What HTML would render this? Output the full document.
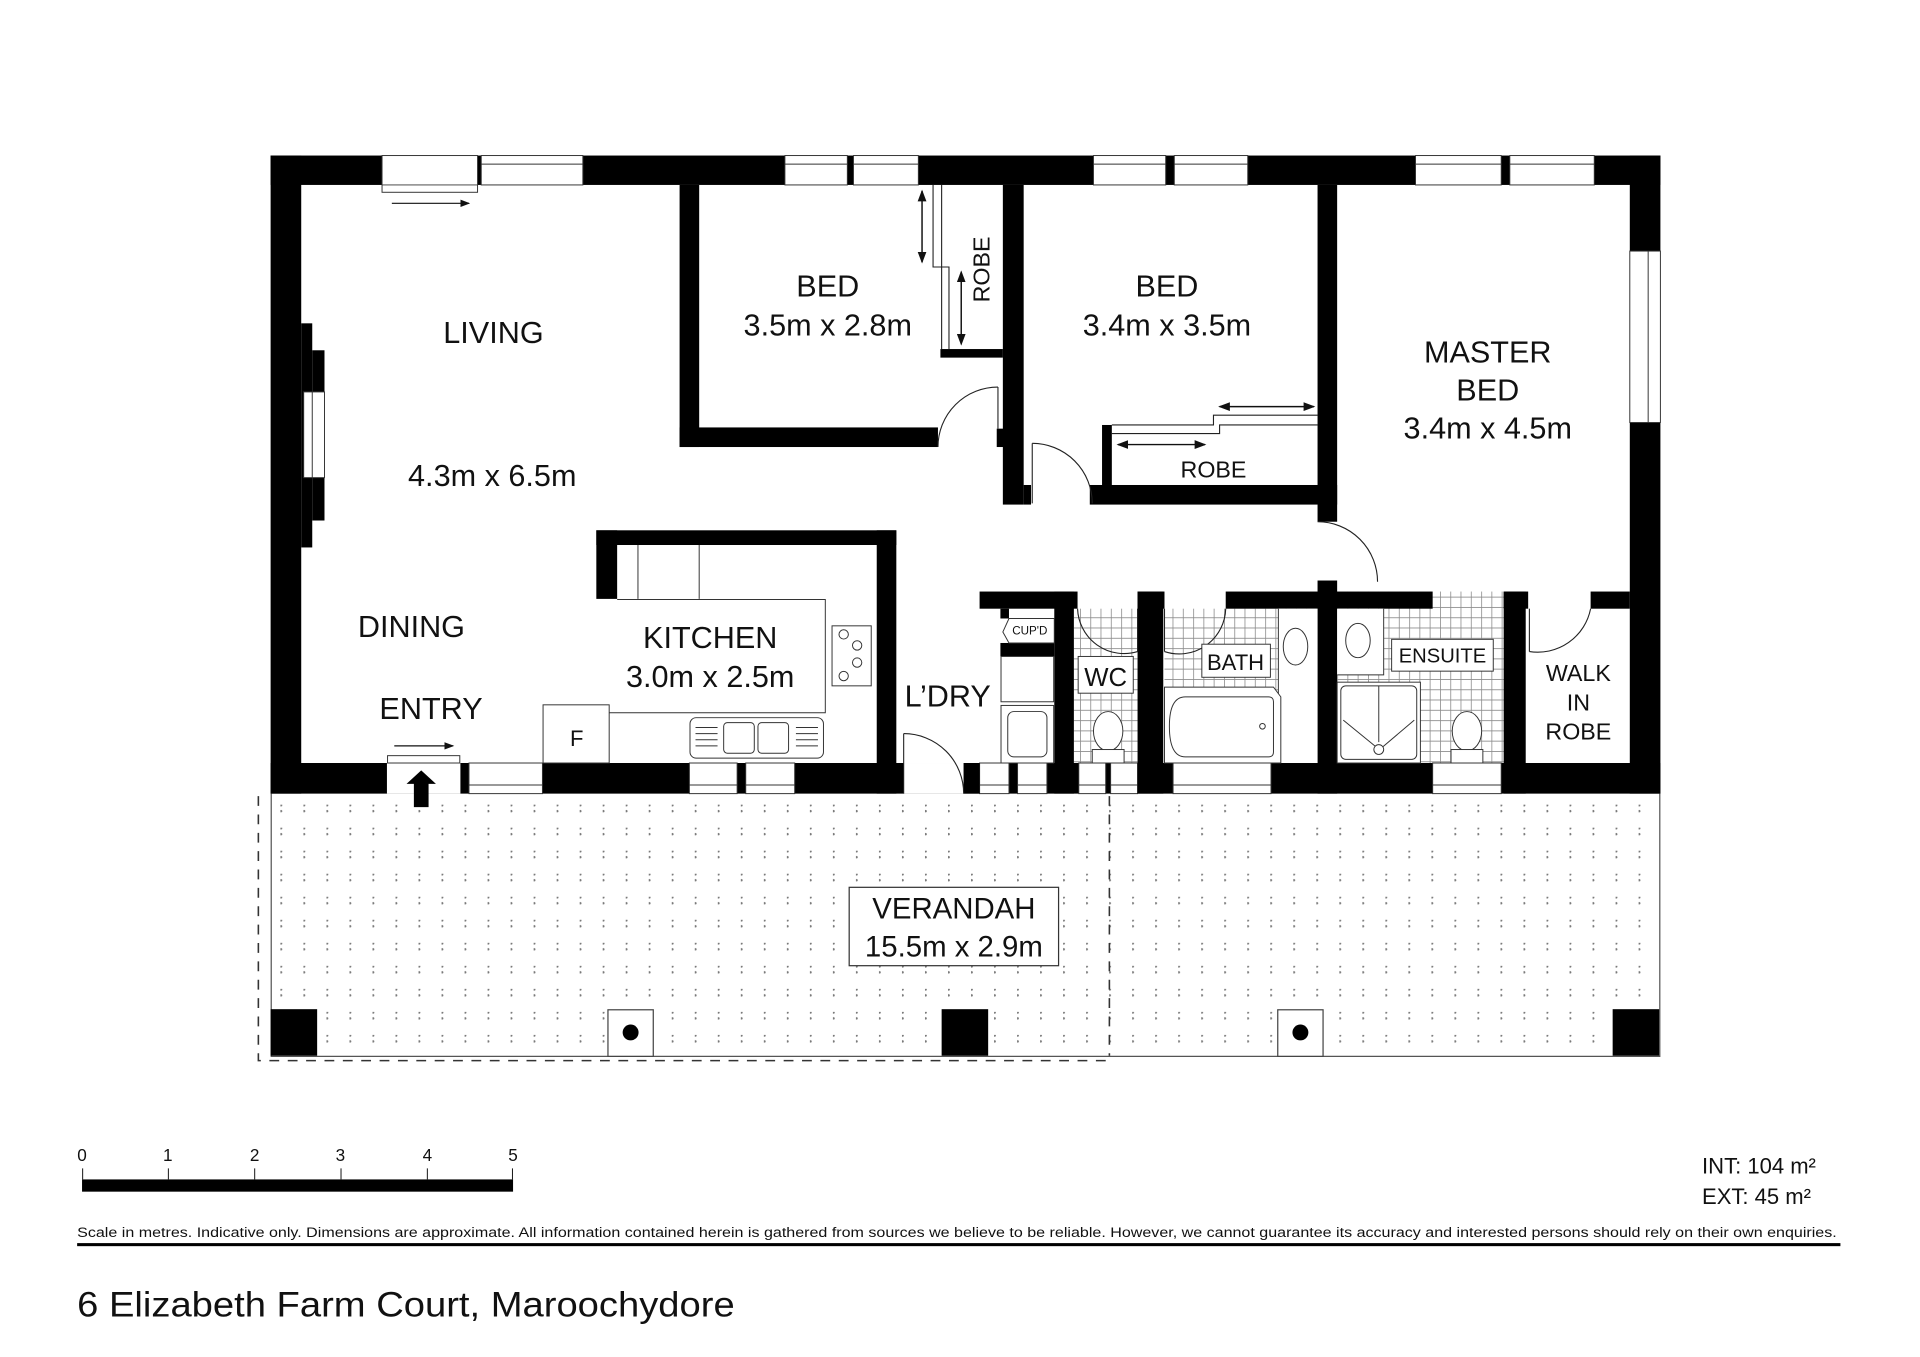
<!DOCTYPE html>
<html><head><meta charset="utf-8"><style>
html,body{margin:0;padding:0;background:#fff;}
svg{display:block;}
text{font-family:"Liberation Sans",sans-serif;fill:#111;}
</style></head><body>
<svg width="1920" height="1357" viewBox="0 0 1568 1108" preserveAspectRatio="none" xmlns="http://www.w3.org/2000/svg">
<defs>
<pattern id="dots" patternUnits="userSpaceOnUse" x="0" y="0" width="18.8" height="18.8" patternTransform="translate(229 657)">
<circle cx="0.5" cy="0.5" r="1" fill="#7a7a7a"/><circle cx="0.5" cy="5.3" r="1" fill="#7a7a7a"/>
</pattern>
<pattern id="tile" patternUnits="userSpaceOnUse" width="8.4" height="8.4">
<rect width="8.4" height="8.4" fill="#fff"/><path d="M0 0H8.4M0 0V8.4" stroke="#8c8c8c" stroke-width="1.3"/>
</pattern>
<marker id="ah" markerWidth="8" markerHeight="6" refX="7" refY="3" orient="auto"><path d="M0,0 L8,3 L0,6z" fill="#111"/></marker>
<marker id="ahs" markerWidth="8" markerHeight="6" refX="1" refY="3" orient="auto"><path d="M8,0 L0,3 L8,6z" fill="#111"/></marker>
</defs>
<rect width="1568" height="1108" fill="#fff"/>

<!-- verandah -->
<rect x="221" y="648" width="1135" height="214" fill="url(#dots)"/>
<path d="M221.5 648V862.5H1355.5V648" fill="none" stroke="#555" stroke-width="1"/>
<path d="M211 650V866H905" fill="none" stroke="#333" stroke-width="1.3" stroke-dasharray="8,7"/>
<path d="M906 650V862" fill="none" stroke="#333" stroke-width="1.3" stroke-dasharray="8,7"/>
<rect x="221" y="824" width="38" height="38" fill="#000"/>
<rect x="769" y="824" width="38" height="38" fill="#000"/>
<rect x="1317" y="824" width="38" height="38" fill="#000"/>
<rect x="496.5" y="824.5" width="37" height="38" fill="#fff" stroke="#444"/>
<circle cx="515" cy="843" r="6.5" fill="#000"/>
<rect x="1043.5" y="824.5" width="37" height="38" fill="#fff" stroke="#444"/>
<circle cx="1062" cy="843" r="6.5" fill="#000"/>
<rect x="693.5" y="724.5" width="171" height="64" fill="#fff" stroke="#333"/>
<text x="779" y="750" font-size="24" text-anchor="middle">VERANDAH</text>
<text x="779" y="781" font-size="24" text-anchor="middle">15.5m x 2.9m</text>

<!-- tiles -->
<rect x="877" y="497" width="52" height="126" fill="url(#tile)"/>
<rect x="951" y="497" width="125" height="126" fill="url(#tile)"/>
<rect x="1092" y="483" width="136" height="140" fill="url(#tile)"/>

<!-- outer walls -->
<rect x="221" y="127" width="1135" height="24" fill="#000"/>
<rect x="221" y="127" width="25" height="521" fill="#000"/>
<rect x="1331" y="127" width="25" height="521" fill="#000"/>
<rect x="221" y="623" width="1135" height="25" fill="#000"/>
<rect x="246" y="264" width="9" height="183" fill="#000"/>
<rect x="255" y="286" width="10" height="139" fill="#000"/>
<rect x="248" y="320" width="17" height="70" fill="#fff" stroke="#333" stroke-width="0.8"/>

<g fill="#fff" stroke="#333" stroke-width="0.8">
<rect x="312" y="127" width="78" height="30"/>
<rect x="393" y="127" width="83" height="24"/>
<rect x="641" y="127" width="51" height="24"/>
<rect x="697" y="127" width="53" height="24"/>
<rect x="893" y="127" width="59" height="24"/>
<rect x="959" y="127" width="60" height="24"/>
<rect x="1156" y="127" width="70" height="24"/>
<rect x="1233" y="127" width="69" height="24"/>
<rect x="1331" y="205" width="25" height="140"/>
<rect x="316" y="623" width="60" height="25" stroke="none"/>
<rect x="383" y="623" width="60" height="25"/>
<rect x="563" y="623" width="39" height="25"/>
<rect x="609" y="623" width="40" height="25"/>
<rect x="738" y="623" width="49" height="25" stroke="none"/>
<rect x="800" y="623" width="24" height="25"/>
<rect x="831" y="623" width="24" height="25"/>
<rect x="881" y="623" width="22" height="25"/>
<rect x="907" y="623" width="22" height="25"/>
<rect x="958" y="623" width="80" height="25"/>
<rect x="1170" y="623" width="56" height="25"/>
</g>
<g stroke="#333" stroke-width="0.8" fill="none">
<path d="M312 151H390M393 134H476M641 134H692M697 134H750M893 134H952M959 134H1019M1156 134H1226M1233 134H1302"/>
<path d="M1346 205V345"/>
<path d="M383 641H443M563 641H602M609 641H649M800 641H824M831 641H855M881 641H903M907 641H929M958 641H1038M1170 641H1226"/>
<path d="M255 320V390"/>
</g>
<line x1="320" y1="166" x2="383" y2="166" stroke="#111" stroke-width="1" marker-end="url(#ah)"/>
<rect x="316.5" y="617" width="59" height="6" fill="#fff" stroke="#333" stroke-width="0.8"/>
<line x1="322" y1="609" x2="370" y2="609" stroke="#111" stroke-width="1" marker-end="url(#ah)"/>
<path d="M344 629L356 640H350V659H338V640H332Z" fill="#000"/>

<g fill="#000">
<rect x="555" y="151" width="16" height="214"/>
<rect x="555" y="349" width="211" height="16"/>
<rect x="814" y="350" width="6" height="15"/>
<rect x="819" y="151" width="17" height="261"/>
<rect x="836" y="396" width="6" height="16"/>
<rect x="768" y="285" width="51" height="7"/>
<rect x="900" y="347" width="8" height="49"/>
<rect x="890" y="396" width="202" height="16"/>
<rect x="1076" y="151" width="16" height="275"/>
<rect x="1076" y="474" width="16" height="174"/>
<rect x="487" y="433" width="245" height="12"/>
<rect x="487" y="433" width="17" height="56"/>
<rect x="716" y="433" width="16" height="215"/>
<rect x="800" y="483" width="80" height="14"/>
<rect x="929" y="483" width="22" height="14"/>
<rect x="1001" y="483" width="169" height="14"/>
<rect x="1228" y="483" width="20" height="14"/>
<rect x="1299" y="483" width="32" height="14"/>
<rect x="861" y="483" width="16" height="165"/>
<rect x="929" y="483" width="21" height="165"/>
<rect x="1228" y="483" width="18" height="165"/>
<rect x="817" y="497" width="7" height="8"/>
<rect x="817" y="525" width="44" height="11"/>
<rect x="787" y="623" width="13" height="25"/>
</g>

<g fill="none" stroke="#222" stroke-width="0.9">
<path d="M766 365A49 49 0 0 1 815 316"/><path d="M815 316V350"/>
<path d="M843 362A49 49 0 0 1 892 411"/><path d="M843 362V411"/>
<path d="M738 599A49 49 0 0 1 787 648"/><path d="M738 599V648"/>
<path d="M1076 426A49 49 0 0 1 1125 475"/>
<path d="M880 497A38 38 0 0 0 929 532"/><path d="M929 497V532"/>
<path d="M1001 497A38 38 0 0 1 951 532"/><path d="M951 497V532"/>
<path d="M1299 497A44 44 0 0 1 1249 532"/><path d="M1249 497V532"/>
<path d="M762 151V218H769V285M769 151V218H775V285"/>
<path d="M908 347H991V339H1076M908 354H996V347H1076"/>
</g>
<g stroke="#111" stroke-width="1.2">
<line x1="753" y1="156" x2="753" y2="214" marker-start="url(#ahs)" marker-end="url(#ah)"/>
<line x1="785" y1="222" x2="785" y2="281" marker-start="url(#ahs)" marker-end="url(#ah)"/>
<line x1="913" y1="363" x2="984" y2="363" marker-start="url(#ahs)" marker-end="url(#ah)"/>
<line x1="996" y1="332" x2="1073" y2="332" marker-start="url(#ahs)" marker-end="url(#ah)"/>
</g>

<g fill="#fff" stroke="#333" stroke-width="0.8">
<path d="M521 445V489M571 445V489" fill="none"/>
<path d="M504 489.5H674V582H497" fill="none"/>
<rect x="443.5" y="575.5" width="54" height="47.5"/>
<rect x="679.5" y="511" width="32" height="49"/>
<circle cx="689" cy="518" r="3.8"/><circle cx="700" cy="527" r="3.8"/><circle cx="700" cy="541" r="3.8"/><circle cx="689" cy="552" r="3.8"/>
<rect x="563.5" y="586" width="109" height="33" rx="5"/>
<rect x="591" y="590" width="25" height="25" rx="3"/><rect x="619" y="590" width="25" height="25" rx="3"/>
<path d="M568 594H586M568 599H586M568 604H586M568 609H586M650 594H668M650 599H668M650 604H668M650 609H668" fill="none"/>
</g>
<text x="471" y="609" font-size="18" text-anchor="middle">F</text>

<g fill="#fff" stroke="#333" stroke-width="0.8">
<path d="M824 505H861V525H824L819 516Z"/>
<rect x="817.5" y="536" width="43" height="37"/>
<rect x="817.5" y="576" width="43" height="47"/>
<rect x="823" y="581" width="32" height="37" rx="5"/>
<rect x="880.5" y="536" width="45" height="30"/>
<ellipse cx="905" cy="597" rx="12" ry="16"/>
<rect x="892" y="612" width="26" height="11"/>
<rect x="1044" y="497" width="32" height="126" stroke="none"/>
<path d="M1044 497V623"/>
<rect x="981.5" y="526" width="56" height="27"/>
<ellipse cx="1058" cy="528" rx="10" ry="15"/>
<path d="M951 561H1040L1046 569V623H951Z"/>
<path d="M968 569H1036Q1040 569 1040 573V614Q1040 618 1036 618H968Q955 618 955 593Q955 569 968 569Z"/>
<circle cx="1031" cy="593" r="2.3"/>
<rect x="1092" y="497" width="38" height="54" stroke="none"/>
<path d="M1130 497V551H1092"/>
<ellipse cx="1109" cy="523" rx="10" ry="14"/>
<rect x="1136.5" y="522" width="83" height="26"/>
<rect x="1092" y="557" width="68" height="66"/>
<rect x="1095" y="560" width="62" height="60" rx="4"/>
<path d="M1126 560V606M1097 588L1124 610M1155 588L1129 610" fill="none"/>
<circle cx="1126" cy="612" r="4"/>
<ellipse cx="1198" cy="597" rx="12" ry="16"/>
<rect x="1185" y="612" width="26" height="11"/>
</g>
<text x="841" y="518" font-size="9.5" text-anchor="middle">CUP'D</text>
<text x="903" y="560" font-size="21" text-anchor="middle">WC</text>
<text x="1009" y="547" font-size="18" text-anchor="middle">BATH</text>
<text x="1178" y="541" font-size="16.5" text-anchor="middle">ENSUITE</text>

<g font-size="25" text-anchor="middle">
<text x="403" y="280">LIVING</text>
<text x="402" y="397">4.3m x 6.5m</text>
<text x="336" y="520">DINING</text>
<text x="352" y="587">ENTRY</text>
<text x="580" y="529">KITCHEN</text>
<text x="580" y="561">3.0m x 2.5m</text>
<text x="774" y="577">L’DRY</text>
<text x="676" y="242">BED</text>
<text x="676" y="274">3.5m x 2.8m</text>
<text x="953" y="242">BED</text>
<text x="953" y="274">3.4m x 3.5m</text>
<text x="1215" y="296">MASTER</text>
<text x="1215" y="327">BED</text>
<text x="1215" y="358">3.4m x 4.5m</text>
</g>
<g font-size="19" text-anchor="middle">
<text x="991" y="390">ROBE</text>
<text x="1289" y="556">WALK</text>
<text x="1289" y="580">IN</text>
<text x="1289" y="604">ROBE</text>
<text x="0" y="0" transform="translate(808 220) rotate(-90)">ROBE</text>
</g>

<rect x="67" y="963" width="352" height="10" fill="#000"/>
<path d="M67.5 954V963M137.5 954V963M208 954V963M278.5 954V963M349 954V963M418.5 954V963" stroke="#111" stroke-width="0.8"/>
<g font-size="14" text-anchor="middle">
<text x="67" y="948">0</text><text x="137" y="948">1</text><text x="208" y="948">2</text><text x="278" y="948">3</text><text x="349" y="948">4</text><text x="419" y="948">5</text>
</g>
<text x="1390" y="958" font-size="18">INT: 104 m²</text>
<text x="1390" y="983" font-size="18">EXT: 45 m²</text>
<text x="63" y="1010" font-size="11" textLength="1437" lengthAdjust="spacingAndGlyphs">Scale in metres. Indicative only. Dimensions are approximate. All information contained herein is gathered from sources we believe to be reliable. However, we cannot guarantee its accuracy and interested persons should rely on their own enquiries.</text>
<rect x="63" y="1015" width="1440" height="2.5" fill="#000"/>
<text x="63" y="1075" font-size="29" textLength="537" lengthAdjust="spacingAndGlyphs" fill="#222">6 Elizabeth Farm Court, Maroochydore</text>
</svg>
</body></html>
